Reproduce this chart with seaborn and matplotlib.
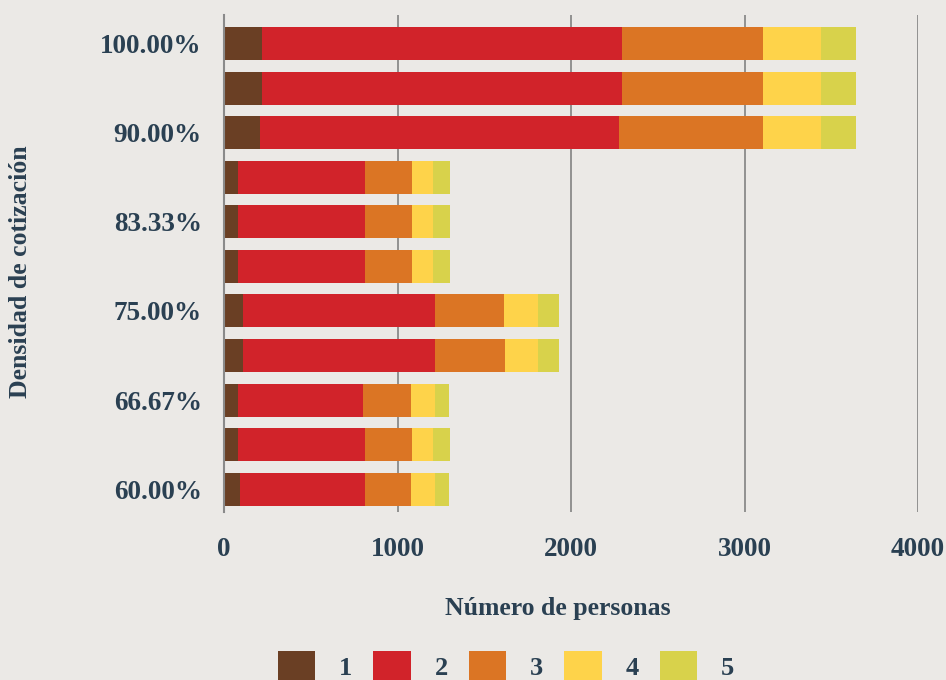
import numpy as np
import pandas as pd
import matplotlib
matplotlib.use("Agg")
import matplotlib.pyplot as plt
import seaborn as sns
from matplotlib.patches import Patch

# ---- data ----
categories = ["100.00%", "96.67%", "90.00%", "86.67%", "83.33%", "80.00%",
              "75.00%", "70.00%", "66.67%", "63.33%", "60.00%"]
tick_labels = ["100.00%", "", "90.00%", "", "83.33%", "",
               "75.00%", "", "66.67%", "", "60.00%"]
levels = ["1", "2", "3", "4", "5"]
v1 = [219, 219, 207, 81, 81, 81, 110, 110, 81, 81, 92]
v2 = [2074, 2074, 2069, 734, 734, 734, 1109, 1109, 722, 734, 723]
v3 = [814, 814, 831, 271, 271, 271, 393, 399, 277, 271, 265]
v4 = [336, 336, 336, 116, 116, 116, 196, 190, 139, 121, 139]
v5 = [199, 199, 199, 98, 98, 98, 122, 122, 75, 93, 75]
x_ticks = [0, 1000, 2000, 3000, 4000]

colors = ["#6A3F24", "#D1232A", "#DB7524", "#FED34A", "#D8D24B"]
bg = "#EBE9E6"
txt = "#2A4052"

df = pd.DataFrame({"cat": categories, "1": v1, "2": v2, "3": v3, "4": v4, "5": v5})
cum = df[levels].cumsum(axis=1)

plt.rcParams["font.family"] = ["Liberation Serif", "DejaVu Serif"]
plt.rcParams["font.weight"] = "bold"

fig = plt.figure(figsize=(9.46, 6.8), dpi=100, facecolor=bg)
ax = fig.add_axes([224 / 946, 1 - 512 / 680, (918 - 224) / 946, (512 - 15) / 680])
ax.set_facecolor(bg)

for i in reversed(range(5)):
    sns.barplot(x=cum[levels[i]].values, y=df["cat"], orient="h", color=colors[i],
                saturation=1, width=0.74, errorbar=None, linewidth=0,
                edgecolor="none", ax=ax, zorder=2)

ax.set_xlim(0, 4000)
ax.set_ylim(10.51, -0.64)
ax.set_xticks(x_ticks)
ax.set_xticklabels([str(t) for t in x_ticks])
ax.set_yticks(range(len(categories)))
ax.set_yticklabels(tick_labels)
ax.set_xlabel("")
ax.set_ylabel("")

for s in ["top", "right", "bottom"]:
    ax.spines[s].set_visible(False)
ax.spines["left"].set_color("#8a8a8a")
ax.spines["left"].set_linewidth(1.5)

ax.set_axisbelow(True)
ax.xaxis.grid(True, color="#8a8a8a", linewidth=1.3)
ax.yaxis.grid(False)

ax.tick_params(axis="x", length=0, pad=18, labelsize=19.5, labelcolor=txt)
ax.tick_params(axis="y", length=0, pad=16, labelsize=19.5, labelcolor=txt)
for lab in ax.get_xticklabels() + ax.get_yticklabels():
    lab.set_fontweight("bold")

fig.text(558 / 946, 1 - 608 / 680, "Número de personas", ha="center", va="center",
         fontsize=18.5, fontweight="bold", color=txt)
fig.text(21 / 946, 1 - 272 / 680, "Densidad de cotización", ha="center", va="center",
         rotation=90, fontsize=18.5, fontweight="bold", color=txt)

handles = [Patch(facecolor=c, edgecolor="none") for c in colors]
leg = fig.legend(handles, levels, loc="center", bbox_to_anchor=(506 / 946, 1 - 666 / 680),
                 ncol=5, frameon=False, handlelength=1.42, handleheight=1.42,
                 handletextpad=0.9, columnspacing=0.8,
                 prop={"size": 19, "weight": "bold"})
for t in leg.get_texts():
    t.set_color(txt)

fig.savefig("out.png", dpi=100, facecolor=bg)
